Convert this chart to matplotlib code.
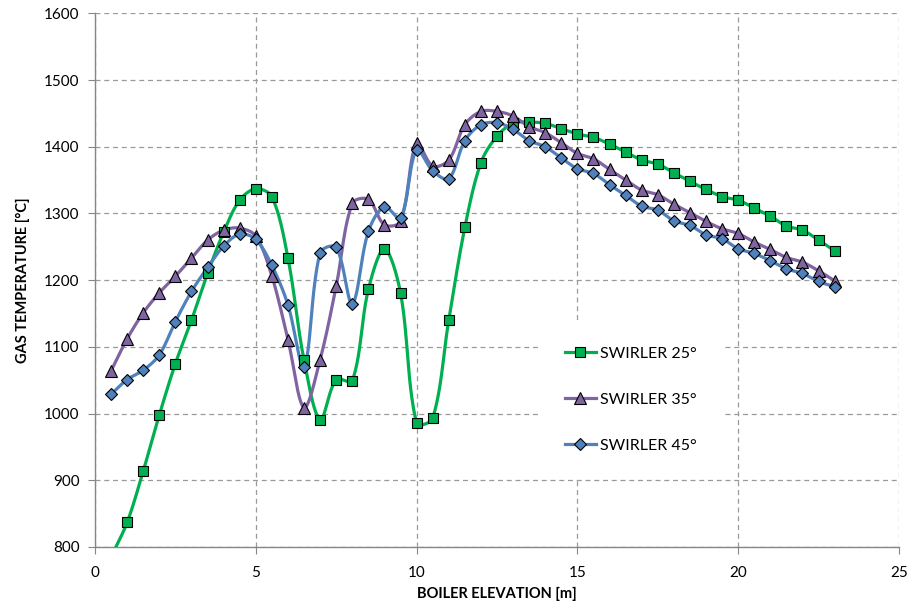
import numpy as np
import matplotlib
matplotlib.use("Agg")
import matplotlib.pyplot as plt

# ---------- Data ----------
elevation = [0.5, 1.0, 1.5, 2.0, 2.5, 3.0, 3.5, 4.0, 4.5, 5.0, 5.5, 6.0,
             6.5, 7.0, 7.5, 8.0, 8.5, 9.0, 9.5, 10.0, 10.5, 11.0, 11.5, 12.0,
             12.5, 13.0, 13.5, 14.0, 14.5, 15.0, 15.5, 16.0, 16.5, 17.0, 17.5,
             18.0, 18.5, 19.0, 19.5, 20.0, 20.5, 21.0, 21.5, 22.0, 22.5, 23.0]

swirler_25 = [785, 837, 914, 998, 1075, 1140, 1210, 1272, 1320, 1337, 1325, 1233,
              1080, 991, 1051, 1049, 1186, 1247, 1181, 986, 993, 1140, 1279, 1376,
              1416, 1435, 1437, 1435, 1427, 1419, 1414, 1404, 1392, 1380, 1374,
              1361, 1348, 1336, 1325, 1320, 1308, 1296, 1281, 1275, 1260, 1244]

swirler_35 = [1064, 1112, 1151, 1181, 1206, 1233, 1260, 1275, 1278, 1266, 1206, 1111,
              1009, 1081, 1191, 1315, 1321, 1283, 1288, 1405, 1371, 1380, 1433, 1453,
              1453, 1446, 1430, 1421, 1406, 1390, 1382, 1366, 1350, 1335, 1328,
              1314, 1301, 1288, 1277, 1270, 1257, 1246, 1234, 1227, 1214, 1199]

swirler_45 = [1029, 1051, 1065, 1088, 1138, 1183, 1219, 1251, 1269, 1261, 1222, 1163,
              1070, 1241, 1249, 1165, 1273, 1310, 1293, 1395, 1364, 1352, 1409, 1433,
              1436, 1426, 1409, 1400, 1383, 1367, 1360, 1343, 1327, 1311, 1305,
              1289, 1282, 1268, 1262, 1247, 1240, 1229, 1217, 1210, 1198, 1190]

labels = ["SWIRLER 25°", "SWIRLER 35°", "SWIRLER 45°"]

# ---------- Style ----------
COLORS = ["#00B050", "#8064A2", "#4F81BD"]
MARKERS = ["s", "^", "D"]
MSIZES = [7.5, 8.0, 6.0]
GRID_COLOR = "#9A9A9A"
AXIS_COLOR = "#868686"
# rough pixel size of one data unit, used so the smoothing works in screen space
PX_PER_X = 32.16
PX_PER_Y = 0.667

plt.rcParams["font.family"] = ["Lato", "DejaVu Sans"]


def smooth_line(x, y, steps=24):
    # Excel-like smoothed line: Bezier segments through every point,
    # handle lengths scaled by neighbouring segment lengths (less overshoot)
    p = np.column_stack([np.asarray(x, float) * PX_PER_X,
                         np.asarray(y, float) * PX_PER_Y])
    n = len(p)
    d = np.linalg.norm(np.diff(p, axis=0), axis=1)
    t = np.linspace(0, 1, steps, endpoint=False)[:, None]
    out = []
    for i in range(n - 1):
        p0, p3 = p[i], p[i + 1]
        if i > 0:
            c1 = p0 + (p[i + 1] - p[i - 1]) * d[i] / (d[i - 1] + d[i]) / 3
        else:
            c1 = p0 + (p3 - p0) / 3
        if i + 2 < n:
            c2 = p3 - (p[i + 2] - p[i]) * d[i] / (d[i] + d[i + 1]) / 3
        else:
            c2 = p3 - (p3 - p0) / 3
        b = (1 - t) ** 3 * p0 + 3 * (1 - t) ** 2 * t * c1 \
            + 3 * (1 - t) * t ** 2 * c2 + t ** 3 * p3
        out.append(b)
    out.append(p[-1:])
    out = np.vstack(out)
    return out[:, 0] / PX_PER_X, out[:, 1] / PX_PER_Y


fig = plt.figure(figsize=(9.11, 6.06), dpi=100)
ax = fig.add_axes([0.1043, 0.0974, 0.8825, 0.8806])

series = [swirler_25, swirler_35, swirler_45]
for vals, lab, col, mk, ms in zip(series, labels, COLORS, MARKERS, MSIZES):
    sx, sy = smooth_line(elevation, vals)
    ax.plot(sx, sy, color=col, lw=2.3, zorder=3, solid_capstyle="round")
    ax.plot(elevation, vals, ls="none", marker=mk, ms=ms, mfc=col, mec="black",
            mew=0.8, zorder=4)
    # proxy for the legend (line + marker)
    ax.plot([], [], color=col, lw=2.3, marker=mk, ms=ms, mfc=col, mec="black",
            mew=0.8, label=lab)

ax.set_xlim(0, 25)
ax.set_ylim(800, 1600)
ax.set_xticks(np.arange(0, 26, 5))
ax.set_yticks(np.arange(800, 1601, 100))

ax.grid(True, color=GRID_COLOR, ls=(0, (4, 3)), lw=0.9)
ax.set_axisbelow(True)

for side in ["top", "right"]:
    ax.spines[side].set_visible(False)
for side in ["left", "bottom"]:
    ax.spines[side].set_color(AXIS_COLOR)
    ax.spines[side].set_linewidth(1.0)

ax.tick_params(axis="both", direction="out", length=5, color=AXIS_COLOR,
               labelsize=11, labelcolor="black")
ax.tick_params(axis="x", pad=9)
ax.tick_params(axis="y", pad=6)

ax.set_xlabel("BOILER ELEVATION [m]", fontsize=10.5, fontweight="bold", labelpad=5)
ax.set_ylabel("GAS TEMPERATURE [°C]", fontsize=10.5, fontweight="bold", labelpad=10)

leg = ax.legend(loc="center", bbox_to_anchor=(0.667, 0.276), frameon=True,
                fontsize=11.5, handlelength=1.9, handletextpad=0.3,
                labelspacing=2.0, borderpad=1.6)
leg.get_frame().set_edgecolor("none")
leg.get_frame().set_facecolor("white")
leg.get_frame().set_alpha(1.0)

fig.savefig("out.png", dpi=100)
